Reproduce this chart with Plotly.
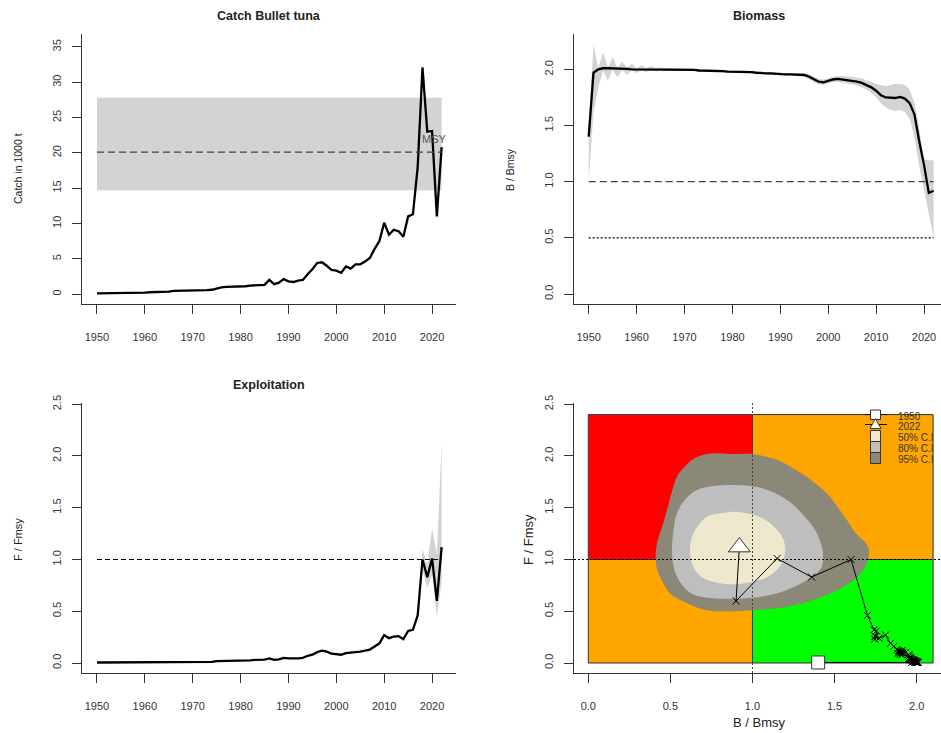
import plotly.graph_objects as go

# ---------------- data ----------------
years = list(range(1950, 2023))

catch = [0.1, 0.1, 0.15, 0.2, 0.2, 0.2, 0.2, 0.2, 0.2, 0.2, 0.2,
         0.25, 0.25, 0.3, 0.3, 0.35, 0.45, 0.45, 0.5, 0.5, 0.5,
         0.5, 0.5, 0.55, 0.6, 0.8, 0.95, 1.0, 1.0, 1.05, 1.1,
         1.1, 1.2, 1.2, 1.2, 1.3, 2.0, 1.4, 1.6, 2.1, 1.8,
         1.7, 1.9, 2.0, 2.8, 3.5, 4.4, 4.5, 4.0, 3.4, 3.3,
         3.0, 3.9, 3.6, 4.2, 4.2, 4.6, 5.1, 6.4, 7.5, 10.1,
         8.4, 9.1, 8.9, 8.1, 11.0, 11.3, 18.0, 32.1, 23.0, 23.1,
         11.0, 20.8]
msy = 20.1
msy_lo = 14.7
msy_hi = 27.8

bbmsy = [1.40, 1.97, 2.00, 2.01, 2.01, 2.01, 2.005, 2.005, 2.005, 2.00,
         2.00, 2.00, 2.00, 2.00, 2.00, 2.00, 2.00, 2.00, 2.00, 2.00,
         2.00, 2.00, 1.995, 1.99, 1.99, 1.99, 1.985, 1.985, 1.985, 1.98,
         1.98, 1.98, 1.98, 1.978, 1.975, 1.97, 1.965, 1.965, 1.965, 1.96,
         1.96, 1.955, 1.955, 1.955, 1.955, 1.95, 1.935, 1.91, 1.89, 1.885,
         1.90, 1.91, 1.915, 1.91, 1.905, 1.90, 1.89, 1.88, 1.86, 1.84,
         1.81, 1.77, 1.75, 1.745, 1.745, 1.755, 1.74, 1.70, 1.60, 1.36,
         1.15, 0.90, 0.92]
bbmsy_hi = [1.50, 2.22, 2.01, 2.15, 2.02, 2.11, 2.015, 2.07, 2.015, 2.05,
            2.01, 2.04, 2.01, 2.03, 2.01, 2.02, 2.01, 2.015,
            2.01, 2.01, 2.01, 2.01, 2.005, 2.0, 2.0, 2.0, 1.995, 1.995, 1.995,
            1.99, 1.99, 1.99, 1.99, 1.988, 1.985, 1.98, 1.975, 1.975, 1.975,
            1.97, 1.97, 1.965, 1.965, 1.965, 1.965,
            1.965, 1.955, 1.935, 1.915, 1.91, 1.925, 1.935, 1.94, 1.94, 1.935,
            1.935, 1.925, 1.92, 1.90, 1.89, 1.87, 1.86, 1.85, 1.86, 1.87,
            1.87, 1.86, 1.82, 1.70, 1.48, 1.20, 1.19, 1.19]
bbmsy_lo = [1.00, 1.62, 1.84, 1.99, 1.90, 2.00, 1.93, 1.995, 1.95, 1.995,
            1.965, 1.995, 1.975, 1.995, 1.98, 1.995, 1.985, 1.99,
            1.99, 1.99, 1.99, 1.99, 1.985, 1.98, 1.98, 1.98, 1.975, 1.975, 1.975,
            1.97, 1.97, 1.97, 1.97, 1.968, 1.965, 1.96, 1.955, 1.955, 1.955,
            1.95, 1.95, 1.945, 1.945, 1.945, 1.945,
            1.935, 1.915, 1.885, 1.865, 1.86, 1.875, 1.885, 1.89, 1.88, 1.875,
            1.865, 1.855, 1.84, 1.82, 1.79, 1.75, 1.70, 1.66, 1.64, 1.63,
            1.64, 1.62, 1.56, 1.40, 1.14, 0.95, 0.72, 0.50]

ffmsy = [0.005, 0.005, 0.005, 0.005, 0.005, 0.005, 0.005, 0.005, 0.005, 0.005,
         0.005, 0.005, 0.005, 0.005, 0.005, 0.01, 0.01, 0.01, 0.01, 0.01,
         0.01, 0.01, 0.01, 0.01, 0.01, 0.018, 0.018, 0.018, 0.018, 0.018,
         0.02, 0.02, 0.025, 0.03, 0.03, 0.032, 0.045, 0.03, 0.035, 0.05,
         0.045, 0.042, 0.045, 0.05, 0.07, 0.08, 0.105, 0.12, 0.11, 0.09,
         0.088, 0.08, 0.095, 0.10, 0.10, 0.11, 0.12, 0.13, 0.16, 0.19,
         0.27, 0.24, 0.255, 0.26, 0.23, 0.31, 0.32, 0.46, 1.0, 0.83,
         1.01, 0.60, 1.12]
f_band_years = [2015, 2016, 2017, 2018, 2019, 2020, 2021, 2022]
ffmsy_lo = [0.30, 0.31, 0.42, 0.90, 0.73, 0.85, 0.45, 0.78]
ffmsy_hi = [0.32, 0.33, 0.50, 1.10, 0.95, 1.30, 1.05, 2.13]

# Kobe quadrants
kobe_bmax = 2.1
kobe_fmax = 2.4

# Kobe confidence regions (B/Bmsy, F/Fmsy)
ci95_b = [0.72, 0.64, 0.59, 0.54, 0.51, 0.48, 0.45, 0.42, 0.41, 0.42, 0.45, 0.50, 0.60, 0.72,
          0.86, 1.00, 1.15, 1.31, 1.47, 1.59, 1.66, 1.70, 1.71, 1.69, 1.63, 1.58, 1.53, 1.48,
          1.41, 1.33, 1.25, 1.17, 1.09, 1.00, 0.88]
ci95_f = [2.02, 1.97, 1.90, 1.80, 1.66, 1.48, 1.32, 1.17, 1.03, 0.90, 0.79, 0.67, 0.58, 0.51,
          0.50, 0.51, 0.53, 0.58, 0.67, 0.77, 0.87, 0.98, 1.09, 1.16, 1.25, 1.37, 1.48, 1.59,
          1.70, 1.80, 1.88, 1.95, 1.99, 2.02, 2.02]
ci80_b = [0.76, 0.66, 0.59, 0.54, 0.52, 0.51, 0.52, 0.56, 0.63, 0.73, 0.86, 1.00, 1.14, 1.26,
          1.36, 1.42, 1.43, 1.42, 1.38, 1.32, 1.24, 1.14, 1.03, 0.90]
ci80_f = [1.71, 1.67, 1.58, 1.45, 1.29, 1.12, 0.93, 0.78, 0.67, 0.63, 0.62, 0.63, 0.67, 0.74,
          0.83, 0.92, 1.03, 1.14, 1.29, 1.41, 1.54, 1.64, 1.70, 1.72]
ci50_b = [0.82, 0.73, 0.67, 0.63, 0.62, 0.64, 0.69, 0.77, 0.87, 0.99, 1.09, 1.16, 1.19, 1.20,
          1.18, 1.13, 1.07, 0.99, 0.90]
ci50_f = [1.45, 1.42, 1.33, 1.21, 1.06, 0.93, 0.83, 0.78, 0.76, 0.78, 0.83, 0.92, 1.01, 1.11,
          1.22, 1.32, 1.39, 1.44, 1.46]

legend_labels = ["1950", "2022", "50% C.I", "80% C.I", "95% C.I"]

# ---------------- styling ----------------
W, H = 941, 733
FONT = "Liberation Sans, Arial, sans-serif"
INK = "#222222"
LIGHT = "#d3d3d3"
DASH = "7px,4px"
DOT = "2px,2px"


def px(x):
    return x / W


def py(y):
    return 1 - y / H


def dom_x(a, b):
    return [px(a), min(1.0, px(b))]


def dom_y(top, bottom):
    return [py(bottom), py(top)]


def axis(**kw):
    d = dict(showline=True, linecolor="#333", linewidth=1, ticks="outside",
             ticklen=9, tickwidth=1, tickcolor="#333", showgrid=False,
             zeroline=False, mirror=False, fixedrange=True, automargin=False,
             tickfont=dict(family=FONT, size=11, color="#333"))
    d.update(kw)
    return d


fig = go.Figure()

# ---- Panel 1: catch ----
fig.add_trace(go.Scatter(x=years, y=catch, mode="lines",
                         line=dict(color="black", width=2.3),
                         xaxis="x", yaxis="y", showlegend=False))

# ---- Panel 2: biomass ----
fig.add_trace(go.Scatter(x=years + years[::-1], y=bbmsy_hi + bbmsy_lo[::-1],
                         fill="toself", fillcolor=LIGHT, mode="lines",
                         line=dict(width=0, color=LIGHT),
                         xaxis="x2", yaxis="y2", showlegend=False, hoverinfo="skip"))
fig.add_trace(go.Scatter(x=[years[0], years[-1]], y=[1.0, 1.0], mode="lines",
                         line=dict(color="#444", width=1.3, dash=DASH),
                         xaxis="x2", yaxis="y2", showlegend=False))
fig.add_trace(go.Scatter(x=[years[0], years[-1]], y=[0.5, 0.5], mode="lines",
                         line=dict(color="black", width=1.2, dash=DOT),
                         xaxis="x2", yaxis="y2", showlegend=False))
fig.add_trace(go.Scatter(x=years, y=bbmsy, mode="lines",
                         line=dict(color="black", width=2.3),
                         xaxis="x2", yaxis="y2", showlegend=False))

# ---- Panel 3: exploitation ----
fig.add_trace(go.Scatter(x=f_band_years + f_band_years[::-1], y=ffmsy_hi + ffmsy_lo[::-1],
                         fill="toself", fillcolor=LIGHT, mode="lines",
                         line=dict(width=0, color=LIGHT),
                         xaxis="x3", yaxis="y3", showlegend=False, hoverinfo="skip"))
fig.add_trace(go.Scatter(x=[years[0], years[-1]], y=[1.0, 1.0], mode="lines",
                         line=dict(color="black", width=1.2, dash="5px,3px"),
                         xaxis="x3", yaxis="y3", showlegend=False))
fig.add_trace(go.Scatter(x=years, y=ffmsy, mode="lines",
                         line=dict(color="black", width=2.3),
                         xaxis="x3", yaxis="y3", showlegend=False))

# ---- Panel 4: Kobe ----
for bx, fy, col in [(ci95_b, ci95_f, "#8B8878"), (ci80_b, ci80_f, "#BEBEBE"),
                    (ci50_b, ci50_f, "#EEE8CD")]:
    fig.add_trace(go.Scatter(x=bx + bx[:1], y=fy + fy[:1], fill="toself", fillcolor=col,
                             mode="lines", line=dict(width=0, color=col, shape="spline"),
                             xaxis="x4", yaxis="y4", showlegend=False, hoverinfo="skip"))
fig.add_trace(go.Scatter(x=bbmsy, y=ffmsy, mode="lines+markers",
                         line=dict(color="black", width=1),
                         marker=dict(symbol="x-thin", size=7, line=dict(color="black", width=1)),
                         xaxis="x4", yaxis="y4", showlegend=False))
fig.add_trace(go.Scatter(x=[bbmsy[0]], y=[ffmsy[0]], mode="markers",
                         marker=dict(symbol="square", size=13, color="white",
                                     line=dict(color="#333", width=1)),
                         xaxis="x4", yaxis="y4", showlegend=False))
fig.add_trace(go.Scatter(x=[bbmsy[-1]], y=[ffmsy[-1]], mode="markers",
                         marker=dict(symbol="triangle-up", size=19, color="white",
                                     line=dict(color="#333", width=1)),
                         xaxis="x4", yaxis="y4", showlegend=False))

shapes = [
    # catch MSY band and line
    dict(type="rect", xref="x", yref="y", x0=years[0], x1=years[-1], y0=msy_lo, y1=msy_hi,
         fillcolor=LIGHT, line=dict(width=0), layer="below"),
    dict(type="line", xref="x", yref="y", x0=years[0], x1=years[-1], y0=msy, y1=msy,
         line=dict(color="#444", width=1.3, dash=DASH), layer="above"),
    # Kobe quadrants
    dict(type="rect", xref="x4", yref="y4", x0=0, x1=1, y0=1, y1=kobe_fmax,
         fillcolor="#FF0000", line=dict(color="#333", width=1), layer="below"),
    dict(type="rect", xref="x4", yref="y4", x0=1, x1=kobe_bmax, y0=1, y1=kobe_fmax,
         fillcolor="#FFA500", line=dict(color="#333", width=1), layer="below"),
    dict(type="rect", xref="x4", yref="y4", x0=0, x1=1, y0=0, y1=1,
         fillcolor="#FFA500", line=dict(color="#333", width=1), layer="below"),
    dict(type="rect", xref="x4", yref="y4", x0=1, x1=kobe_bmax, y0=0, y1=1,
         fillcolor="#00FF00", line=dict(color="#333", width=1), layer="below"),
    # Kobe reference lines
    dict(type="line", xref="x4", yref="y4 domain", x0=1, x1=1, y0=0, y1=1,
         line=dict(color="#444", width=1, dash=DOT), layer="above"),
    dict(type="line", xref="x4 domain", yref="y4", x0=0, x1=1, y0=1, y1=1,
         line=dict(color="black", width=1, dash=DOT), layer="above"),
]

# Kobe legend (pixel-positioned)
shapes += [
    dict(type="line", xref="paper", yref="paper", x0=px(865), x1=px(887), y0=py(414.5), y1=py(414.5),
         line=dict(color="black", width=1)),
    dict(type="rect", xref="paper", yref="paper", x0=px(870.5), x1=px(880.5), y0=py(419.5), y1=py(410),
         fillcolor="white", line=dict(color="#333", width=1)),
    dict(type="line", xref="paper", yref="paper", x0=px(865), x1=px(887), y0=py(424.5), y1=py(424.5),
         line=dict(color="black", width=1)),
    dict(type="path", xref="paper", yref="paper",
         path="M {:.5f} {:.5f} L {:.5f} {:.5f} L {:.5f} {:.5f} Z".format(
             px(875.5), py(418.5), px(870), py(428.5), px(881), py(428.5)),
         fillcolor="white", line=dict(color="#333", width=1)),
]
for i, col in enumerate(["#EEE8CD", "#BEBEBE", "#8B8878"]):
    top = 430.5 + 11 * i
    shapes.append(dict(type="rect", xref="paper", yref="paper", x0=px(870.5), x1=px(880.5),
                       y0=py(top + 11), y1=py(top), fillcolor=col,
                       line=dict(color="#333", width=1)))

annotations = []


def text(x, y, s, size=11, bold=False, angle=0, color=INK, xanchor="center"):
    annotations.append(dict(x=px(x), y=py(y), xref="paper", yref="paper",
                            text=("<b>%s</b>" % s) if bold else s, showarrow=False,
                            textangle=angle, xanchor=xanchor, yanchor="middle",
                            font=dict(family=FONT, size=size, color=color)))


text(269, 16, "Catch Bullet tuna", size=12.5, bold=True)
text(759, 16, "Biomass", size=12.5, bold=True)
text(269, 385, "Exploitation", size=12.5, bold=True)
text(18, 169, "Catch in 1000 t", size=10.5, angle=-90)
text(510, 169, "B / Bmsy", size=10.5, angle=-90)
text(18, 540, "F / Fmsy", size=11, angle=-90)
text(528, 540, "F / Fmsy", size=13, angle=-90)
text(759, 722, "B / Bmsy", size=13)
text(434, 139, "MSY", size=11, color="#555")
for i, lab in enumerate(legend_labels):
    text(896, [416, 426.5, 437.5, 448.3, 459.3][i], lab, size=10, color="#333", xanchor="left")

year_ticks = [1950, 1960, 1970, 1980, 1990, 2000, 2010, 2020]
XSTAND = 14
YSTAND = 7

fig.update_layout(
    width=W, height=H, margin=dict(l=0, r=0, t=0, b=0, pad=0, autoexpand=False),
    paper_bgcolor="white", plot_bgcolor="rgba(0,0,0,0)",
    showlegend=False, shapes=shapes, annotations=annotations,
    xaxis=axis(domain=dom_x(82, 456), range=[1946.87, 2025.0], tickvals=year_ticks,
               anchor="y", ticklabelstandoff=XSTAND),
    yaxis=axis(domain=dom_y(34, 304), range=[-1.417, 36.84], tickvals=[0, 5, 10, 15, 20, 25, 30, 35],
               tickangle=-90, anchor="x", ticklabelstandoff=YSTAND),
    xaxis2=axis(domain=dom_x(574, 941), range=[1946.93, 2023.55], tickvals=year_ticks,
                anchor="y2", ticklabelstandoff=XSTAND),
    yaxis2=axis(domain=dom_y(34, 304), range=[-0.089, 2.315], tickvals=[0, 0.5, 1.0, 1.5, 2.0],
                ticktext=["0.0", "0.5", "1.0", "1.5", "2.0"], tickangle=-90, anchor="x2",
                ticklabelstandoff=YSTAND),
    xaxis3=axis(domain=dom_x(82, 456), range=[1946.87, 2025.0], tickvals=year_ticks,
                anchor="y3", ticklabelstandoff=XSTAND),
    yaxis3=axis(domain=dom_y(403, 673), range=[-0.0966, 2.512], tickvals=[0, 0.5, 1.0, 1.5, 2.0, 2.5],
                ticktext=["0.0", "0.5", "1.0", "1.5", "2.0", "2.5"], tickangle=-90, anchor="x3",
                ticklabelstandoff=YSTAND),
    xaxis4=axis(domain=dom_x(574, 941), range=[-0.087, 2.148], tickvals=[0, 0.5, 1.0, 1.5, 2.0],
                ticktext=["0.0", "0.5", "1.0", "1.5", "2.0"], anchor="y4", ticklabelstandoff=XSTAND),
    yaxis4=axis(domain=dom_y(403, 673), range=[-0.0966, 2.512], tickvals=[0, 0.5, 1.0, 1.5, 2.0, 2.5],
                ticktext=["0.0", "0.5", "1.0", "1.5", "2.0", "2.5"], tickangle=-90, anchor="x4",
                ticklabelstandoff=YSTAND),
)

pin_to_corner = ("document.body.style.margin='0';"
                 "var d=document.getElementById('{plot_id}');"
                 "d.style.position='fixed';d.style.left='0px';d.style.top='0px';")
fig.write_html("out.html", post_script=pin_to_corner, config={"displayModeBar": False})
